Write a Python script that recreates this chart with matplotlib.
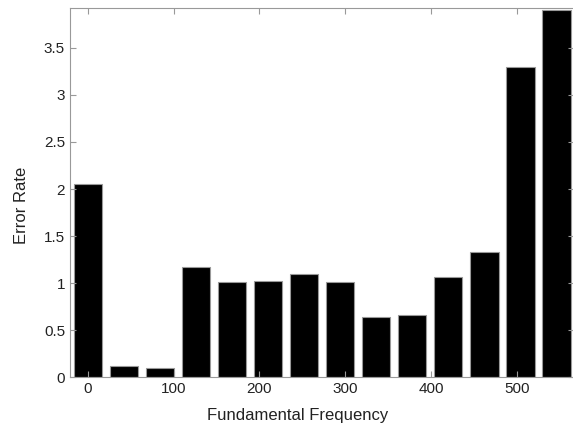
import numpy as np
import matplotlib
matplotlib.use("Agg")
import matplotlib.pyplot as plt

# valores
freq = [0, 42, 84, 126, 168, 210, 252, 294, 336, 378, 420, 462, 504, 546]
error_rate = [2.05, 0.12, 0.105, 1.17, 1.01, 1.02, 1.10, 1.01, 0.64, 0.66, 1.07, 1.33, 3.30, 3.90]
xticks = [0, 100, 200, 300, 400, 500]
yticks = [0, 0.5, 1, 1.5, 2, 2.5, 3, 3.5]

plt.rcParams['font.family'] = ['Liberation Sans', 'DejaVu Sans']

fig = plt.figure(figsize=(5.73, 4.28), dpi=100)
ax = fig.add_axes([0.122, 0.118, 0.88, 0.863])

ax.bar(freq, error_rate, width=0.8 * 42, color='black', edgecolor='#999999', linewidth=0.8)

ax.set_xlim(-21, 567)
ax.set_ylim(0, 3.92)
ax.set_xticks(xticks)
ax.set_yticks(yticks)
ax.set_yticklabels(['0', '0.5', '1', '1.5', '2', '2.5', '3', '3.5'])

for s in ax.spines.values():
    s.set_color('#999999')
    s.set_linewidth(0.8)
ax.tick_params(direction='in', top=True, right=True, length=4, width=0.8,
               color='#999999', labelsize=11, labelcolor='#222222')

ax.set_xlabel('Fundamental Frequency', fontsize=12, color='#222222')
ax.set_ylabel('Error Rate', fontsize=12, color='#222222')
# posicoes das legendas dos eixos como na figura original
ax.xaxis.set_label_coords(0.452, -0.083)
ax.yaxis.set_label_coords(-0.082, 0.467)

fig.savefig('out.png', dpi=100)
